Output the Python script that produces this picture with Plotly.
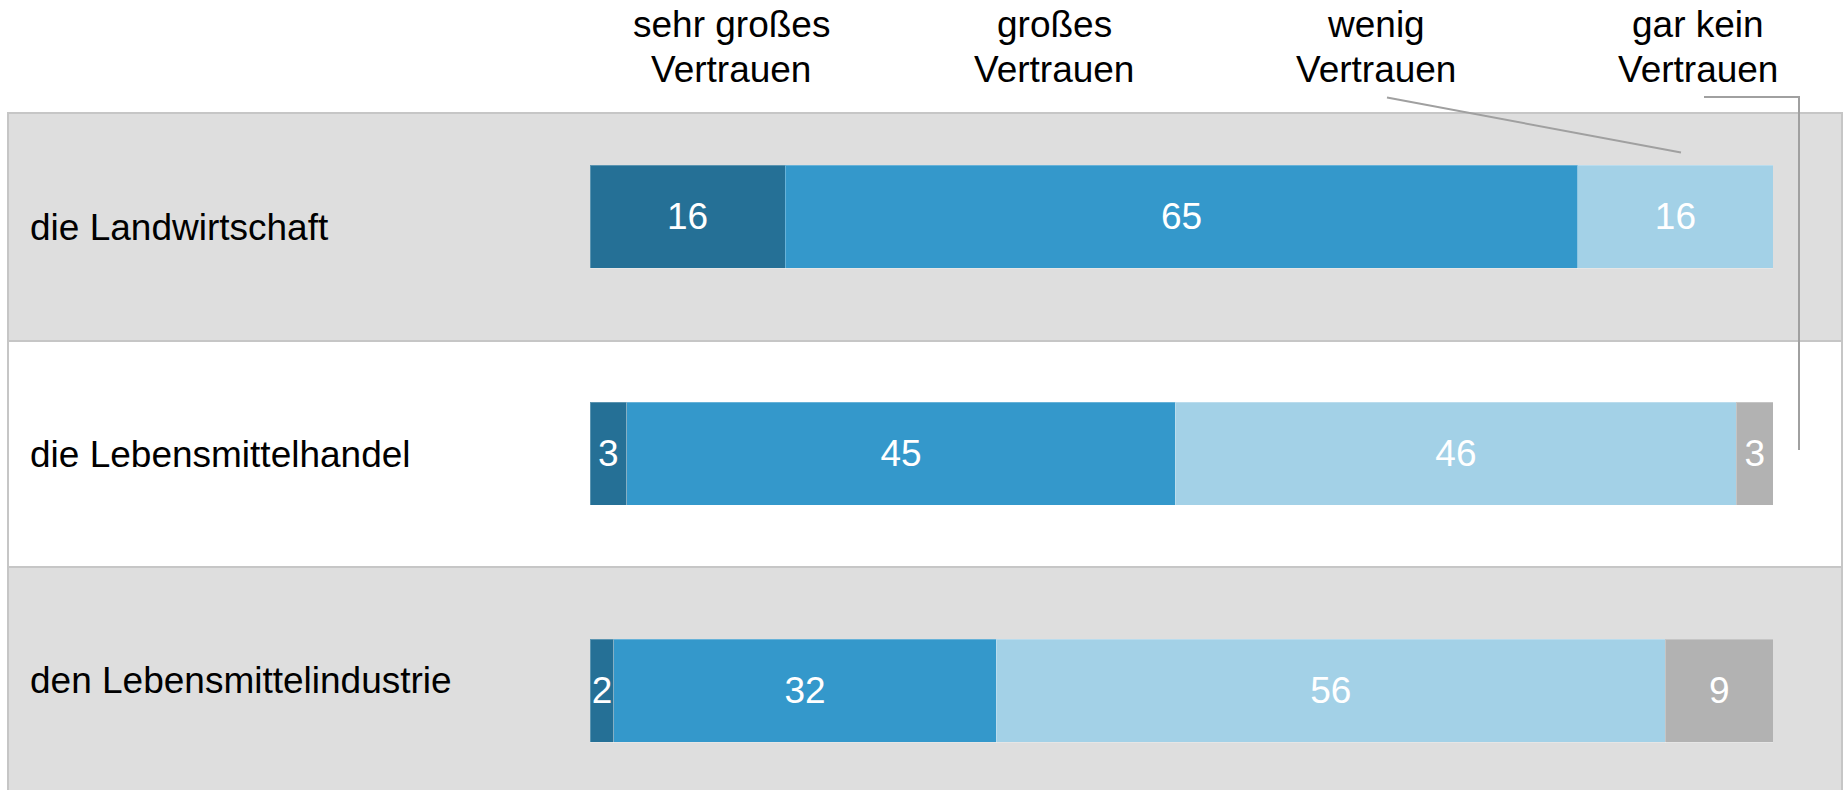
import plotly.graph_objects as go

# ---- data ----
categories = ["die Landwirtschaft", "die Lebensmittelhandel", "den Lebensmittelindustrie"]
sehr_grosses = [16, 3, 2]
grosses = [65, 45, 32]
wenig = [16, 46, 56]
gar_kein = [None, 3, 9]
series_names = ["sehr großes Vertrauen", "großes Vertrauen", "wenig Vertrauen", "gar kein Vertrauen"]
header_line1 = ["sehr großes", "großes", "wenig", "gar kein"]
header_line2 = ["Vertrauen", "Vertrauen", "Vertrauen", "Vertrauen"]

# ---- style / layout ----
W, H = 1843, 790
ML, MR, MT, MB = 590, 70, 60, 0
PW = W - ML - MR
PH = H - MT - MB
colors = ["#257096", "#3498cb", "#a3d1e7", "#b2b2b2"]
FONT = "Liberation Sans, Arial, sans-serif"
FS = 37

ROW0_PX = 216.8
ROW_STEP = 237.0
yr_top = -(ROW0_PX - MT) / ROW_STEP
yr_bot = (H - ROW0_PX) / ROW_STEP

def px_to_py(py):
    return (H - MB - py) / PH

def px_to_px(px):
    return (px - ML) / PW

fig = go.Figure()
series = [sehr_grosses, grosses, wenig, gar_kein]
for name, vals, col in zip(series_names, series, colors):
    fig.add_trace(go.Bar(
        y=categories, x=vals, name=name, orientation="h",
        marker=dict(color=col, line=dict(color="rgba(255,255,255,0.25)", width=1)),
        text=["" if v is None else str(v) for v in vals],
        texttemplate="%{text}", textposition="inside", insidetextanchor="middle",
        textangle=0, constraintext="none",
        textfont=dict(color="white", size=FS, family=FONT),
        hoverinfo="skip", showlegend=False,
    ))

# background bands
band_px = [113, 341, 567, 800]
band_fill = ["#dedede", "#ffffff", "#dedede"]
shapes = []
for i in range(3):
    shapes.append(dict(type="rect", xref="paper", yref="paper",
                       x0=px_to_px(8), x1=px_to_px(1842),
                       y0=px_to_py(band_px[i]), y1=px_to_py(band_px[i + 1]),
                       fillcolor=band_fill[i], line=dict(color="#c6c6c6", width=2),
                       layer="below"))
# connector lines
shapes.append(dict(type="line", xref="paper", yref="paper",
                   x0=px_to_px(1387), y0=px_to_py(97.6), x1=px_to_px(1681), y1=px_to_py(152.5),
                   line=dict(color="#a0a0a0", width=2)))
shapes.append(dict(type="path", xref="paper", yref="paper",
                   path=f"M {px_to_px(1704)},{px_to_py(97)} L {px_to_px(1799)},{px_to_py(97)} L {px_to_px(1799)},{px_to_py(450)}",
                   line=dict(color="#a0a0a0", width=2)))

annotations = []
# category labels centered in bands
for i, cat in enumerate(categories):
    yc = (band_px[i] + min(band_px[i + 1], 794)) / 2
    annotations.append(dict(text=cat, xref="paper", yref="paper",
                            x=px_to_px(28), y=px_to_py(yc), xanchor="left", yanchor="middle",
                            showarrow=False, font=dict(size=FS, color="#000000", family=FONT)))
# headers
header_cx = [731, 1054, 1376, 1698]
for l1, l2, cx in zip(header_line1, header_line2, header_cx):
    annotations.append(dict(text=l1, xref="paper", yref="paper", x=px_to_px(cx), y=px_to_py(24.2),
                            xanchor="center", yanchor="middle", showarrow=False,
                            font=dict(size=FS, color="#000000", family=FONT)))
    annotations.append(dict(text=l2, xref="paper", yref="paper", x=px_to_px(cx), y=px_to_py(69.2),
                            xanchor="center", yanchor="middle", showarrow=False,
                            font=dict(size=FS, color="#000000", family=FONT)))

fig.update_layout(
    width=W, height=H,
    margin=dict(l=ML, r=MR, t=MT, b=MB, pad=0),
    barmode="stack", barnorm="percent", bargap=1 - 103 / 237,
    paper_bgcolor="white", plot_bgcolor="rgba(0,0,0,0)",
    xaxis=dict(range=[0, 100], visible=False, fixedrange=True),
    yaxis=dict(type="category", categoryorder="array", categoryarray=categories,
               range=[yr_bot, yr_top], visible=False, fixedrange=True),
    shapes=shapes, annotations=annotations,
    font=dict(family=FONT),
    showlegend=False,
)

fig.write_html("out.html", config={"displayModeBar": False},
               post_script="document.body.style.margin='0';document.body.style.padding='0';")
